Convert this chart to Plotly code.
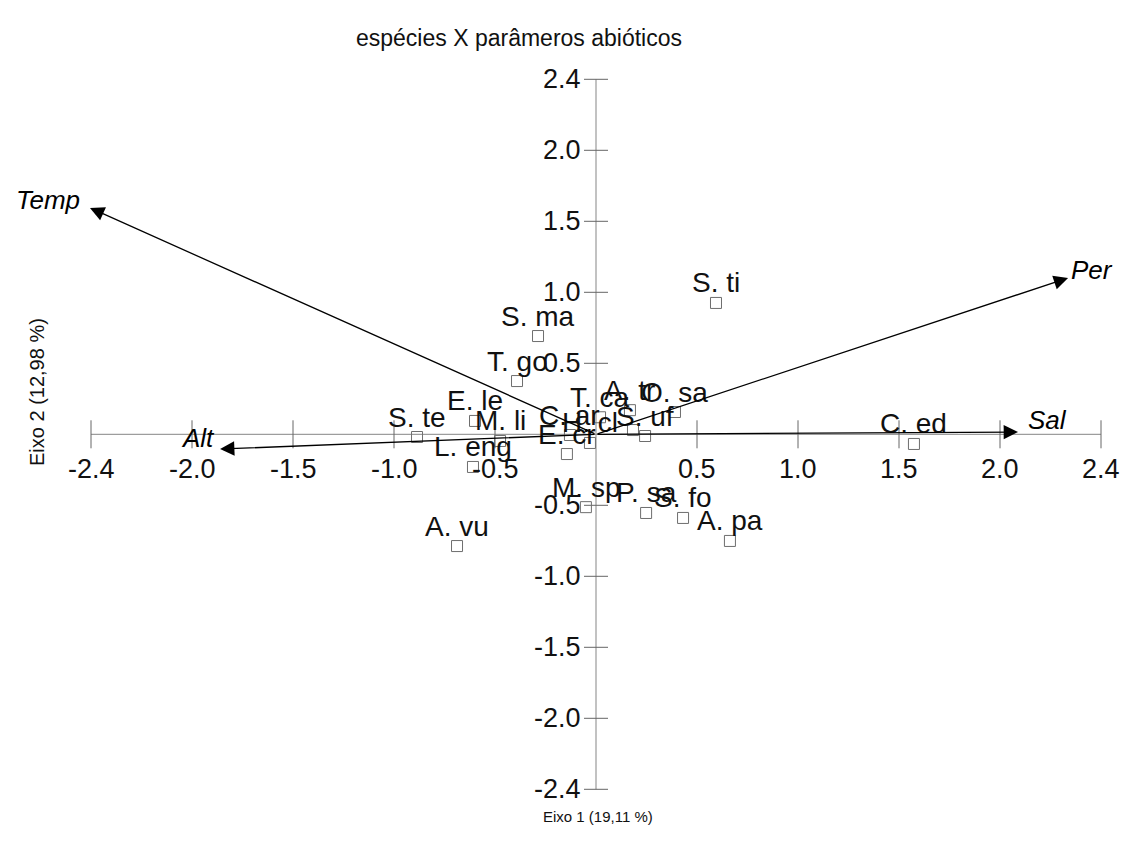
import plotly.graph_objects as go

# Species scores on the first two ordination axes
species = ["S. ti", "S. ma", "T. go", "E. le", "S. te", "L. eng", "M. li", "C. ar",
           "E. cr", "H. cl", "T. ca", "A. tr", "", "S. uf", "O. sa", "A. vu",
           "M. sp", "P. sa", "S. fo", "A. pa", "C. ed"]
sp_x = [0.594, -0.287, -0.391, -0.599, -0.886, -0.609, -0.475, -0.129,
        -0.144, -0.030, 0.020, 0.168, 0.183, 0.243, 0.391, -0.688,
        -0.050, 0.248, 0.431, 0.663, 1.574]
sp_y = [0.925, 0.692, 0.375, 0.094, -0.019, -0.230, -0.047, -0.005,
        -0.139, -0.061, 0.120, 0.170, 0.030, -0.012, 0.157, -0.787,
        -0.513, -0.554, -0.589, -0.751, -0.068]

# Environmental (abiotic) vectors
env_names = ["Temp", "Per", "Sal", "Alt"]
env_x = [-2.505, 2.337, 2.089, -1.861]
env_y = [1.594, 1.101, 0.016, -0.104]
env_label_shift = [(-42, 8), (24, 8), (30, 12), (-22, 11)]

# Axis ticks (end ticks carry the 2.4 labels)
tick_vals = [-2.5, -2.0, -1.5, -1.0, -0.5, 0.5, 1.0, 1.5, 2.0, 2.5]
tick_text = ["-2.4", "-2.0", "-1.5", "-1.0", "-0.5", "0.5", "1.0", "1.5", "2.0", "2.4"]

FONT = "Liberation Sans"
W, H = 1139, 858
X0, XS = 596, 202.0     # origin column and px per unit (horizontal)
Y0, YS = 434.3, 142.0   # origin row and px per unit (vertical)
x_range = [-X0 / XS, (W - X0) / XS]
y_range = [-(H - Y0) / YS, Y0 / YS]

fig = go.Figure()

# Cross-shaped axes through the origin
axis_col = "#858585"
fig.add_trace(go.Scatter(
    x=[tick_vals[0], tick_vals[-1], None, 0, 0],
    y=[0, 0, None, tick_vals[0], tick_vals[-1]],
    mode="lines", line=dict(color=axis_col, width=1), hoverinfo="skip", showlegend=False))

dy_tick = 14 / YS
dx_tick = 12 / XS
tx, ty = [], []
for v in tick_vals:
    tx += [v, v, None]
    ty += [-dy_tick, dy_tick, None]
for v in tick_vals:
    tx += [-dx_tick, dx_tick, None]
    ty += [v, v, None]
fig.add_trace(go.Scatter(x=tx, y=ty, mode="lines", line=dict(color="#666666", width=1),
                         hoverinfo="skip", showlegend=False))

# Species markers
fig.add_trace(go.Scatter(
    x=sp_x, y=sp_y, mode="markers",
    marker=dict(symbol="square-open", size=11, color="#6e6e6e", line=dict(width=1)),
    hoverinfo="skip", showlegend=False))

annotations = []
# Species labels, centred just above each marker
for name, sx_, sy_ in zip(species, sp_x, sp_y):
    if not name:
        continue
    annotations.append(dict(x=sx_, y=sy_, xref="x", yref="y", text=name, showarrow=False,
                            xanchor="center", yanchor="middle", yshift=20,
                            font=dict(family=FONT, size=28, color="#111111")))

# Tick labels
for v, t in zip(tick_vals, tick_text):
    annotations.append(dict(x=v, y=0, xref="x", yref="y", text=t, showarrow=False,
                            xanchor="center", yanchor="middle", yshift=-35,
                            font=dict(family=FONT, size=27, color="#111111")))
    annotations.append(dict(x=0, y=v, xref="x", yref="y", text=t, showarrow=False,
                            xanchor="right", yanchor="middle", xshift=-13,
                            font=dict(family=FONT, size=27, color="#111111")))

# Environmental arrows and their labels
for name, ex, ey, (sx, sy) in zip(env_names, env_x, env_y, env_label_shift):
    annotations.append(dict(x=ex, y=ey, ax=0, ay=0, xref="x", yref="y", axref="x", ayref="y",
                            text="", showarrow=True, arrowhead=2, arrowsize=2.2,
                            arrowwidth=1.3, arrowcolor="#000000", standoff=0))
    annotations.append(dict(x=ex, y=ey, xref="x", yref="y", text="<i>" + name + "</i>",
                            showarrow=False, xanchor="center", yanchor="middle",
                            xshift=sx, yshift=sy,
                            font=dict(family=FONT, size=26, color="#000000")))

# Titles
annotations.append(dict(x=519 / W, y=1 - 38 / H, xref="paper", yref="paper",
                        text="espécies X parâmeros abióticos", showarrow=False,
                        xanchor="center", yanchor="middle",
                        font=dict(family=FONT, size=23, color="#111111")))
annotations.append(dict(x=598 / W, y=1 - 816 / H, xref="paper", yref="paper",
                        text="Eixo 1 (19,11 %)", showarrow=False,
                        xanchor="center", yanchor="middle",
                        font=dict(family=FONT, size=15, color="#111111")))
annotations.append(dict(x=37 / W, y=1 - 392 / H, xref="paper", yref="paper",
                        text="Eixo 2 (12,98 %)", showarrow=False, textangle=-90,
                        xanchor="center", yanchor="middle",
                        font=dict(family=FONT, size=20, color="#111111")))

fig.update_layout(
    width=W, height=H, margin=dict(l=0, r=0, t=0, b=0),
    paper_bgcolor="white", plot_bgcolor="white",
    xaxis=dict(range=x_range, visible=False, fixedrange=True),
    yaxis=dict(range=y_range, visible=False, fixedrange=True),
    annotations=annotations,
)

fig.write_html("out.html")
